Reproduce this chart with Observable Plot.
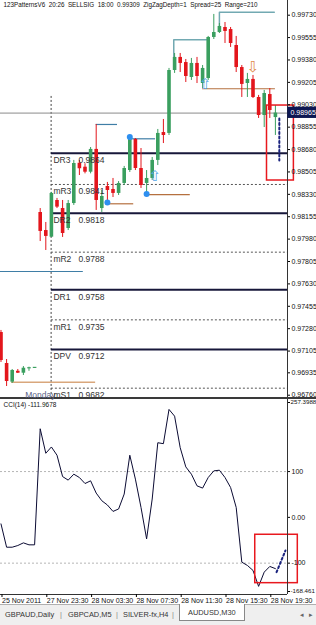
<!DOCTYPE html>
<html><head><meta charset="utf-8">
<script src="https://cdn.jsdelivr.net/npm/d3@7"></script>
<script src="https://cdn.jsdelivr.net/npm/@observablehq/plot@0.6"></script>
<style>
body{margin:0;background:#fff;width:316px;height:625px;overflow:hidden;font-family:"Liberation Sans",Arial,sans-serif;}
#wrap{position:relative;width:316px;height:625px;}
#price svg,#cci svg{display:block}
svg text{white-space:pre}
.sep{height:2px;background:#3a3a3a;width:316px}
#tabs{position:absolute;left:0;top:604px;width:316px;height:21px;background:#efefef;border-top:1px solid #b0b0b0;font-size:7.4px;color:#333}
#tabs span{position:absolute;top:5px;white-space:pre}
#tabs .act{top:-1px;height:16px;background:#fff;border:1px solid #888;border-top:none;padding:0 8px;line-height:17px}
</style></head>
<body><div id="wrap"><div id="price"></div><div class="sep"></div><div id="cci"></div>
<div id="tabs"><span style="left:5px">GBPAUD,Daily</span><span style="left:60px;color:#888">|</span><span style="left:68px">GBPCAD,M5</span><span style="left:116px;color:#888">|</span><span style="left:123px">SILVER-fx,H4</span><span style="left:172px;color:#888">|</span><span class="act" style="left:179px">AUDUSD,M30</span><span style="left:300px;color:#666">◂</span><span style="left:309px;color:#666">▸</span></div>
</div>
<script>
// ---- data (M30 bars, index 0 = 25 Nov) ----
const open  = [0.97250,0.97008,0.96862,0.96947,0.96932,0.96966,0.96969,0.98188,0.98047,0.97995,0.98282,0.98219,0.98063,0.98258,0.98573,0.98542,0.98503,0.98681,0.98219,0.98391,0.98368,0.98337,0.98415,0.98516,0.98759,0.98532,0.98415,0.98454,0.98595,0.98813,0.98806,0.99298,0.99400,0.99360,0.99243,0.99353,0.99196,0.99235,0.99556,0.99595,0.99634,0.99618,0.99493,0.99321,0.99196,0.99228,0.99087,0.98946,0.99110,0.98930];
const high  = [0.97266,0.97039,0.96961,0.96961,0.96984,0.96979,0.96976,0.98219,0.98110,0.98345,0.98298,0.98282,0.98282,0.98595,0.98595,0.98569,0.98696,0.98876,0.98360,0.98423,0.98454,0.98430,0.98548,0.98778,0.98766,0.98688,0.98516,0.98618,0.98837,0.98915,0.99314,0.99431,0.99431,0.99384,0.99392,0.99400,0.99337,0.99564,0.99736,0.99665,0.99673,0.99634,0.99564,0.99337,0.99275,0.99259,0.99103,0.99142,0.99157,0.99024];
const low   = [0.97016,0.96828,0.96852,0.96930,0.96914,0.96947,0.96969,0.97961,0.97891,0.97993,0.98219,0.97993,0.98047,0.98243,0.98477,0.98490,0.98490,0.98204,0.98188,0.98266,0.98305,0.98321,0.98399,0.98501,0.98516,0.98376,0.98333,0.98438,0.98555,0.98727,0.98790,0.99275,0.99282,0.99204,0.99220,0.99196,0.99157,0.99220,0.99540,0.99587,0.99509,0.99478,0.99282,0.99087,0.99087,0.99079,0.98923,0.98852,0.98923,0.98790];
const close = [0.97031,0.96867,0.96953,0.96932,0.96971,0.96969,0.96973,0.98040,0.98001,0.98337,0.98230,0.98024,0.98258,0.98571,0.98530,0.98503,0.98681,0.98282,0.98313,0.98360,0.98337,0.98415,0.98532,0.98774,0.98532,0.98399,0.98454,0.98595,0.98806,0.98790,0.99298,0.99400,0.99353,0.99251,0.99353,0.99251,0.99314,0.99556,0.99595,0.99642,0.99603,0.99509,0.99321,0.99189,0.99228,0.99087,0.98946,0.99118,0.98985,0.98965];
const cci   = [-14.3,-65.2,-65.2,-61.5,-55.7,-60,-60,193.5,140,153.7,135.7,89.1,81.3,94.3,87,73.9,79.8,53,36.3,27,13,18.3,50.9,135.7,83.5,21.7,-47,40,163,160.9,235.7,221,152.2,110.2,94.3,68.9,63.9,87,101.5,103,87,65.2,21.7,-97.8,-105,-115.9,-150.7,-119.6,-107.2,-111.9678];

const priceTickLabels = ["0.99730","0.99555","0.99380","0.99205","0.99030","0.98855","0.98680","0.98505","0.98330","0.98155","0.97980","0.97805","0.97630","0.97455","0.97280","0.97105","0.96935","0.96760"];
const timeTickBars = [0,8,16,24,32,40,48];
const timeTickLabels = ["25 Nov 2011","27 Nov 23:30","28 Nov 03:30","28 Nov 07:30","28 Nov 11:30","28 Nov 15:30","28 Nov 19:30"];
const cciTickValues = [100,0,-100];
const cciTickLabels = ["100","0.00","-100"];
const cciMax = 257.3988, cciMin = -168.461;

const pivotNames  = ["DR3","mR3","DR2","mR2","DR1","mR1","DPV","mS1"];
const pivotLabels = ["0.9864","0.9841","0.9818","0.9788","0.9758","0.9735","0.9712","0.9682"];
const pivotLevels = [0.98652,0.98407,0.98183,0.97878,0.97584,0.97349,0.97117,0.96815];
const pivotMain   = [true,false,true,false,true,false,true,false];
const mondayBar = 9;
const separatorTop = 0.99095;

const currentPrice = 0.98965;
const titleText = "123PatternsV6  20:26  SELLSIG  18:00  0.99309  ZigZagDepth=1  Spread=25  Range=210";
const cciTitle = "CCI(14) -111.9678";

// pattern annotations (bar index, price)
const targetLines = [
  {id:1, pts:[[30.85,0.99400],[30.85,0.99538],[36.7,0.99538]]},
  {id:2, pts:[[39,0.99636],[39,0.99754],[48.8,0.99754]]}
];
const blueLevels  = [{i1:-0.09,i2:14.7,p:0.97727},{i1:17,i2:20.8,p:0.98876},{i1:23,i2:27.6,p:0.98764}];
const brownLevels = [{i1:19,i2:23.7,p:0.98256},{i1:26,i2:33.8,p:0.98327},{i1:36,i2:49,p:0.99155}];
const tanLevels   = [{i1:1.9,i2:16.9,p:0.96862}];
const blueDots    = [{i:19,p:0.98266},{i:23,p:0.98778},{i:26,p:0.98333}];
const upArrows    = [{i:27.5,p:0.98473},{i:36.5,p:0.99189}];
const downArrows  = [{i:45,p:0.99325}];
const projection  = [{i:49.7,p:0.98923},{i:49.7,p:0.98595}];
const priceBox    = [{i1:47.5,i2:52.3,p1:0.99024,p2:0.98438}];
const cciProjection = [{i:49.2,v:-119.7},{i:50.8,v:-72.3}];
const cciBox      = [{i1:45.4,i2:53.0,v1:-38,v2:-143.7}];

// ---- build ----
const GREEN = "#3a9f5f", RED = "#e3161c";
const xDomain = [-0.089, 51.16];
const priceDomain = [0.967421, 0.998449];
const font = "Liberation Sans, Arial, sans-serif";

const bars = open.map((o,i)=>{
  let c = close[i];
  const up = c >= o;
  let b1 = Math.min(o,c), b2 = Math.max(o,c);
  if (b2 - b1 < 0.00009) { b2 = b1 + 0.00009; }
  return {i, o, h: high[i], l: low[i], c, up, b1, b2, col: up ? GREEN : RED};
});
const pivots = pivotNames.map((n,k)=>({name:n, label:pivotLabels[k], p:pivotLevels[k], main:pivotMain[k], x1:mondayBar, x2:xDomain[1]}));
const targetPts = targetLines.flatMap(t=>t.pts.map(([i,p])=>({id:t.id,i,p})));
const labelMap = new Map(priceTickLabels.map(s=>[+s, s]));

const pricePlot = Plot.plot({
  width:316, height:397, marginLeft:0, marginRight:29, marginTop:0, marginBottom:0,
  x:{domain:xDomain, axis:null},
  y:{domain:priceDomain},
  color:{type:"identity"},
  style:{fontFamily:font, background:"transparent", overflow:"visible"},
  marks:[
    Plot.ruleX([mondayBar], {x:d=>d-0.05, y1:separatorTop, y2:priceDomain[0], stroke:"#444", strokeDasharray:"2,2"}),
    Plot.ruleY(pivots.filter(d=>!d.main), {y:"p", x1:"x1", x2:"x2", stroke:"#555", strokeDasharray:"2,2"}),
    Plot.ruleY(pivots.filter(d=>d.main), {y:"p", x1:"x1", x2:"x2", stroke:"#17173a", strokeWidth:2}),
    Plot.ruleY([currentPrice], {x1:xDomain[0], x2:xDomain[1], stroke:"#8a8a8a"}),
    Plot.ruleY(blueLevels, {y:"p", x1:"i1", x2:"i2", stroke:"#3f7ea6", strokeWidth:1.2}),
    Plot.ruleY(brownLevels, {y:"p", x1:"i1", x2:"i2", stroke:"#b5703f", strokeWidth:1.2}),
    Plot.ruleY(tanLevels, {y:"p", x1:"i1", x2:"i2", stroke:"#d9a77c", strokeWidth:1.5}),
    Plot.line(targetPts, {x:"i", y:"p", z:"id", stroke:"#72a9b2", strokeWidth:1.5}),
    Plot.ruleX(bars, {x:"i", y1:"l", y2:"h", stroke:"col", strokeWidth:1}),
    Plot.ruleX(bars, {x:"i", y1:"b1", y2:"b2", stroke:"col", strokeWidth:3.6}),
    Plot.dot(blueDots, {x:"i", y:"p", r:3, fill:"#2e8ff0", stroke:"none"}),
    Plot.text(upArrows, {x:"i", y:"p", text:()=>"⇧", fontSize:15, fill:"#5aa8e8", fontFamily:"DejaVu Sans"}),
    Plot.text(downArrows, {x:"i", y:"p", text:()=>"⇩", fontSize:15, fill:"#e0894a", fontFamily:"DejaVu Sans"}),
    Plot.line(projection, {x:"i", y:"p", stroke:"#1a237e", strokeWidth:2, strokeDasharray:"2,2.5"}),
    Plot.rect(priceBox, {x1:"i1", x2:"i2", y1:"p1", y2:"p2", fill:"none", stroke:"#e8181e", strokeWidth:1.5}),
    Plot.text([{p:pivotLevels[7]}], {x:mondayBar, y:"p", text:()=>"Monday", textAnchor:"end", dx:4, dy:7, fontSize:8.5, fill:"#5a6488"}),
    Plot.text(pivots, {x:"x1", y:"p", text:"name", textAnchor:"start", dx:2, dy:7, fontSize:8.5, fill:"#333"}),
    Plot.text(pivots, {x:"x1", y:"p", text:"label", textAnchor:"start", dx:27, dy:7, fontSize:8.5, fill:"#333"}),
    Plot.ruleX([xDomain[1]], {stroke:"#333"}),
    Plot.axisY({ticks:priceTickLabels.map(Number), anchor:"right", tickSize:2, tickPadding:2, tickFormat:d=>labelMap.get(d), fontSize:7, fill:"#111"}),
    Plot.rect([currentPrice], {x1:xDomain[1]+0.05, x2:xDomain[1]+5.2, y1:d=>d+0.00046, y2:d=>d-0.00042, fill:"#0d1752"}),
    Plot.text([currentPrice], {x:xDomain[1], y:d=>d, text:d=>d.toFixed(5), textAnchor:"start", dx:3, fontSize:7, fill:"#fff"}),
    Plot.text([titleText], {frameAnchor:"top-left", dx:3, dy:2, lineAnchor:"top", fontSize:6.3, fill:"#111"})
  ]
});
document.getElementById("price").appendChild(pricePlot);

const cciData = cci.map((v,i)=>({i,v}));
const cciLabelMap = new Map(cciTickValues.map((v,k)=>[v, cciTickLabels[k]]));
const cciPlot = Plot.plot({
  width:316, height:205, marginLeft:0, marginRight:29, marginTop:0, marginBottom:10,
  x:{domain:xDomain},
  y:{domain:[cciMin, cciMax]},
  style:{fontFamily:font, background:"transparent", overflow:"visible"},
  marks:[
    Plot.ruleY([100,-100], {x1:xDomain[0], x2:xDomain[1], stroke:"#b5b5b5", strokeDasharray:"2,2"}),
    Plot.line(cciData, {x:"i", y:"v", stroke:"#0b0b33", strokeWidth:1}),
    Plot.line(cciProjection, {x:"i", y:"v", stroke:"#1a237e", strokeWidth:2, strokeDasharray:"2,2.5"}),
    Plot.rect(cciBox, {x1:"i1", x2:"i2", y1:"v1", y2:"v2", fill:"none", stroke:"#e8181e", strokeWidth:1.5}),
    Plot.ruleX([xDomain[1]], {stroke:"#333"}),
    Plot.ruleY([cciMin], {x1:xDomain[0], x2:xDomain[1], stroke:"#333"}),
    Plot.axisY({ticks:cciTickValues, anchor:"right", tickSize:2, tickPadding:2, tickFormat:d=>cciLabelMap.get(d), fontSize:7, fill:"#111"}),
    Plot.axisY({ticks:[cciMax], anchor:"right", tickSize:2, tickPadding:1, tickFormat:d=>String(d), fontSize:6.2, fill:"#111", dy:3}),
    Plot.axisY({ticks:[cciMin], anchor:"right", tickSize:2, tickPadding:1, tickFormat:d=>String(d), fontSize:6.2, fill:"#111", dy:-3}),
    Plot.axisX({ticks:timeTickBars, anchor:"bottom", tickSize:3, tickPadding:1, tickFormat:d=>timeTickLabels[timeTickBars.indexOf(d)], textAnchor:"start", dx:1, fontSize:7, fill:"#111"}),
    Plot.text([cciTitle], {frameAnchor:"top-left", dx:3, dy:3, lineAnchor:"top", fontSize:6.5, fill:"#111"})
  ]
});
document.getElementById("cci").appendChild(cciPlot);
</script>
</body></html>
